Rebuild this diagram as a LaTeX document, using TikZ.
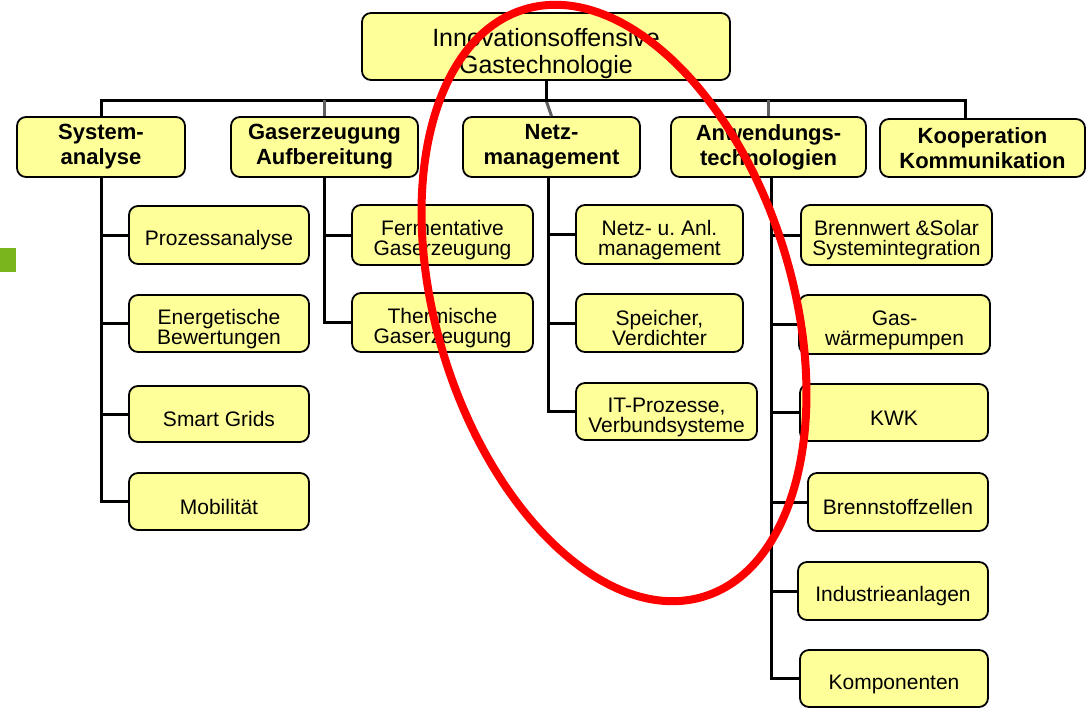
\documentclass[tikz,border=0pt]{standalone}
\usepackage{fontspec}
\setmainfont{Liberation Sans}
\usepackage{xcolor}
\usetikzlibrary{positioning}
\definecolor{boxyellow}{HTML}{FFFF99}
\definecolor{dropgray}{HTML}{606060}
\definecolor{markgreen}{HTML}{7AB51D}
\newcommand{\lowtext}[1]{\rule{0pt}{#1}}

\begin{document}
\begin{tikzpicture}[x=1pt, y=-1pt,
  box/.style={draw=black, line width=1.8pt, fill=boxyellow, rounded corners=9pt,
    align=center, inner sep=0pt},
  topbox/.style={box, minimum width=368pt, minimum height=67pt,
    font=\fontsize{25}{27}\selectfont},
  head/.style={box, minimum height=60pt, font=\fontsize{22}{25}\selectfont\bfseries},
  sub/.style={box, minimum height=58pt, font=\fontsize{21}{20}\selectfont},
  tree/.style={line width=3pt, line join=miter},
  drop/.style={line width=3pt, draw=dropgray}]
\useasboundingbox (0,0) rectangle (1086,707);

% green mark on the left
\fill[markgreen] (0,248) rectangle (16,272);

% top of the tree
\node[topbox] (top) at (546,46.5) {\lowtext{32pt}Innovationsoffensive\\Gastechnologie};

\node[head, minimum width=168pt] (sys) at (101,147) {System-\\analyse};
\node[head, minimum width=187pt] (gas) at (324.5,147) {Gaserzeugung\\Aufbereitung};
\node[head, minimum width=177pt] (netz) at (551.5,147) {Netz-\\management};
\node[head, minimum width=195pt] (anw) at (768.5,147) {Anwendungs-\\technologien};
\node[head, minimum width=205pt, minimum height=58pt] (koop) at (982.5,148)
  {Kooperation\\Kommunikation};

% Systemanalyse
\node[sub, minimum width=180pt] (pro) at (219,235) {\lowtext{26pt}Prozessanalyse};
\node[sub, minimum width=180pt, minimum height=57pt] (ene) at (219,323.5) {\lowtext{26pt}Energetische\\Bewertungen};
\node[sub, minimum width=180pt, minimum height=56pt] (smart) at (219,414) {\lowtext{25pt}Smart Grids};
\node[sub, minimum width=180pt, minimum height=57pt] (mob) at (219,501.5) {\lowtext{26pt}Mobilität};

% Gaserzeugung
\node[sub, minimum width=181pt, minimum height=60pt] (ferm) at (442.5,235) {\lowtext{26pt}Fermentative\\Gaserzeugung};
\node[sub, minimum width=181pt, minimum height=59pt] (therm) at (442.5,322.5) {\lowtext{26pt}Thermische\\Gaserzeugung};

% Netzmanagement
\node[sub, minimum width=167pt, minimum height=59pt] (anl) at (659.5,234.5) {\lowtext{26pt}Netz- u.\ Anl.\\management};
\node[sub, minimum width=167pt] (speich) at (659.5,323) {\lowtext{26pt}Speicher,\\Verdichter};
\node[sub, minimum width=181pt, minimum height=57pt] (itp) at (666.5,411.5) {\lowtext{26pt}IT-Prozesse,\\Verbundsysteme};

% Anwendungstechnologien
\node[sub, minimum width=191pt, minimum height=60pt] (brenn) at (896.5,235) {\lowtext{26pt}Brennwert \&Solar\\Systemintegration};
\node[sub, minimum width=191pt, minimum height=59pt] (wp) at (894.5,324.5) {\lowtext{26pt}Gas-\\wärmepumpen};
\node[sub, minimum width=188pt, minimum height=57pt] (kwk) at (894,412.5) {\lowtext{26pt}KWK};
\node[sub, minimum width=180pt] (bz) at (898,502) {\lowtext{26pt}Brennstoffzellen};
\node[sub, minimum width=190pt] (ind) at (893,591) {\lowtext{26pt}Industrieanlagen};
\node[sub, minimum width=188pt, minimum height=57pt] (komp) at (894,678.5) {\lowtext{26pt}Komponenten};

% connectors
\coordinate (bus) at (0,100);
\coordinate (kdrop) at (965,119);
\draw[tree] (top.south) -- (top.south |- bus);
\draw[drop] (top.south |- bus) -- (netz.north);
\draw[tree] (sys.north) -- (sys.north |- bus) -- (kdrop |- bus) -- (kdrop);
\foreach \n in {gas,anw}
  \draw[drop] (\n.north |- bus) -- (\n.north);

\draw[tree] (sys.south) -- (sys.south |- mob.west) -- (mob.west);
\foreach \n in {pro,ene,smart}
  \draw[tree] (sys.south |- \n.west) -- (\n.west);

\draw[tree] (gas.south) -- (gas.south |- therm.west) -- (therm.west);
\draw[tree] (gas.south |- ferm.west) -- (ferm.west);

\draw[tree] ([xshift=-3pt]netz.south) -- ([xshift=-3pt]netz.south |- itp.west) -- (itp.west);
\foreach \n in {anl,speich}
  \draw[tree] ([xshift=-3pt]netz.south |- \n.west) -- (\n.west);

\draw[tree] ([xshift=2.5pt]anw.south) -- ([xshift=2.5pt]anw.south |- komp.west) -- (komp.west);
\foreach \n in {brenn,wp,kwk,bz,ind}
  \draw[tree] ([xshift=2.5pt]anw.south |- \n.west) -- (\n.west);

% red mark over the middle
\draw[red, line width=8pt, rotate around={17:(614,303)}]
  (614,303) ellipse [x radius=178pt, y radius=307pt];
\end{tikzpicture}
\end{document}
